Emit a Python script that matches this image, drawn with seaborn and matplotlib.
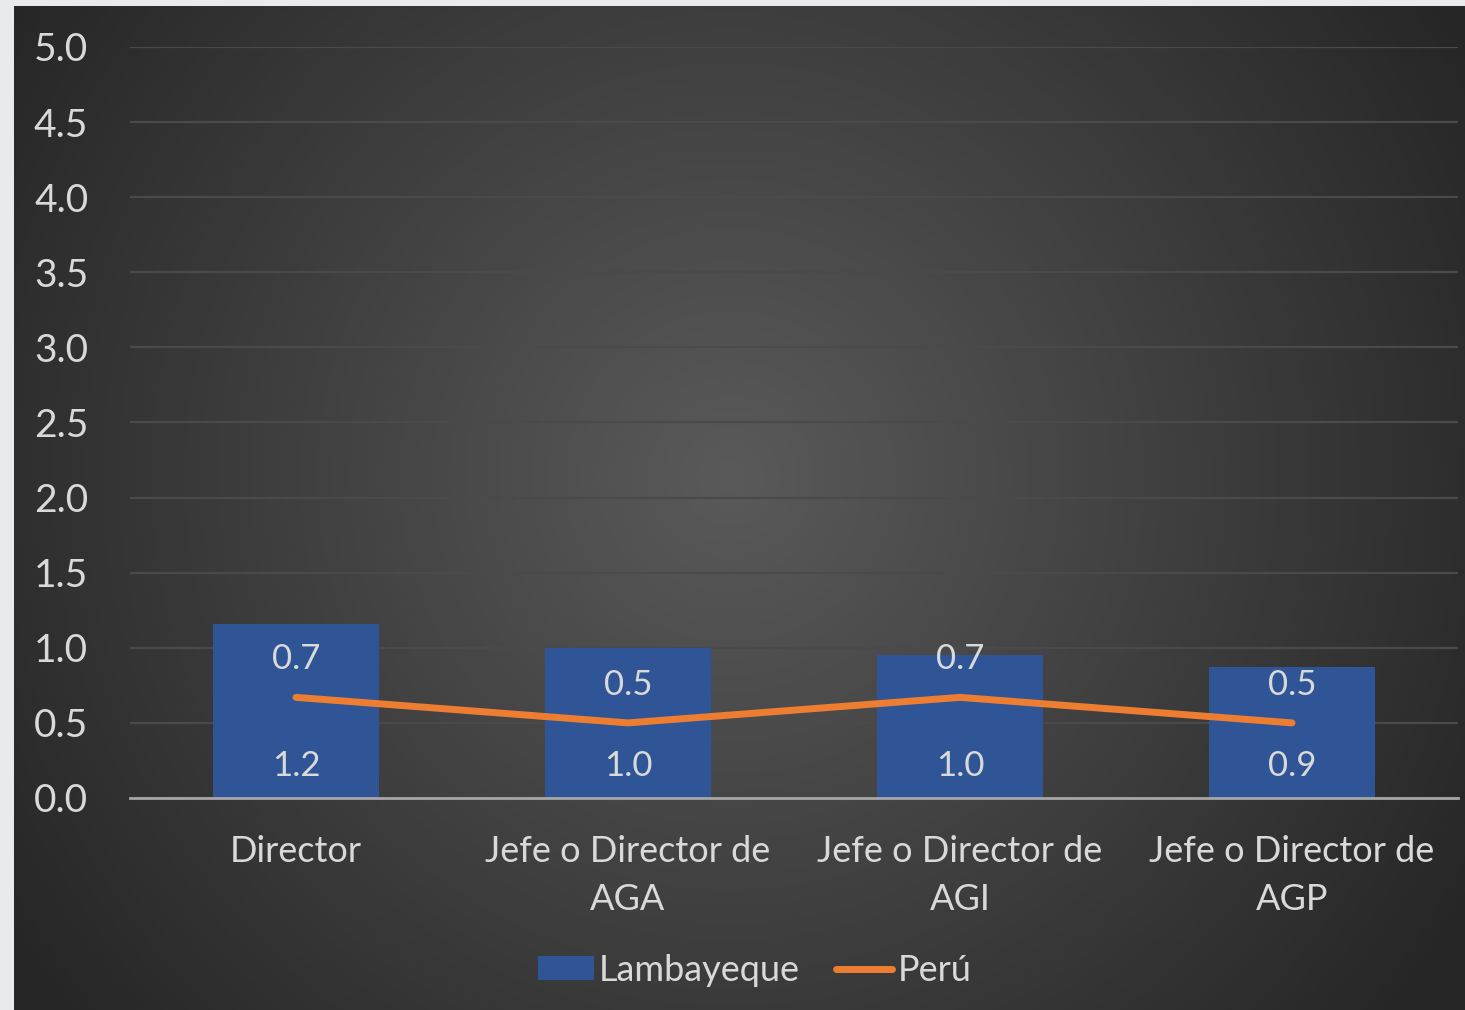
import numpy as np
import pandas as pd
import matplotlib
matplotlib.use("Agg")
import matplotlib.pyplot as plt
from matplotlib.patches import Patch
from matplotlib.lines import Line2D
import seaborn as sns

# ── Data ────────────────────────────────────────────────────────────────────
categories = ["Director", "Jefe o Director de\nAGA", "Jefe o Director de\nAGI",
              "Jefe o Director de\nAGP"]
lambayeque = [1.16, 1.00, 0.95, 0.87]
peru = [0.67, 0.50, 0.67, 0.50]
lamb_labels = ["1.2", "1.0", "1.0", "0.9"]
peru_labels = ["0.7", "0.5", "0.7", "0.5"]
yticks = [0.0, 0.5, 1.0, 1.5, 2.0, 2.5, 3.0, 3.5, 4.0, 4.5, 5.0]

BLUE = "#2f5597"
ORANGE = "#ed7d31"
TXT = "#d9d9d9"

sns.set_theme(style="dark")
plt.rcParams["font.family"] = ["Lato", "DejaVu Sans"]

W, H = 1465, 1010
fig = plt.figure(figsize=(W / 100, H / 100), dpi=100, facecolor="#e9eaed")

# ── dark panel with radial gradient ─────────────────────────────────────────
bg = fig.add_axes([14 / W, 0, 1 - 14 / W, 1 - 6 / H], zorder=0)
yy, xx = np.mgrid[0:1004, 0:1451]
d = np.hypot(xx - 716, yy - 470) / 860
v = (90 - 52 * np.clip(d, 0, 1)) / 255
bg.imshow(np.dstack([v, v, v]), aspect="auto", extent=[0, 1, 0, 1])
bg.axis("off")

ax = fig.add_axes([130 / W, 1 - 798 / H, 1328 / W, 751 / H], zorder=1)
ax.patch.set_alpha(0)

df = pd.DataFrame({"cat": categories, "lamb": lambayeque, "peru": peru})
sns.barplot(data=df, x="cat", y="lamb", color=BLUE, width=0.5, saturation=1,
            linewidth=0, ax=ax, zorder=2)
ax.plot(range(len(categories)), df["peru"], color=ORANGE, lw=5,
        solid_capstyle="round", zorder=3)

for i, lab in enumerate(lamb_labels):
    ax.annotate(lab, (i, 0), xytext=(0, 23), textcoords="offset points",
                ha="center", va="center", color=TXT, fontsize=25)
for i, (p, lab) in enumerate(zip(peru, peru_labels)):
    ax.annotate(lab, (i, p), xytext=(0, 27.5), textcoords="offset points",
                ha="center", va="center", color=TXT, fontsize=25)

ax.set_xlim(-0.5, len(categories) - 0.5)
ax.set_ylim(0, 5)
ax.set_yticks(yticks)
ax.set_yticklabels([f"{t:.1f}" for t in yticks])
ax.set_xlabel("")
ax.set_ylabel("")
ax.grid(axis="y", color="#4a4a4a", lw=1.6, zorder=0)
ax.grid(axis="x", visible=False)
for s in ["top", "right", "left"]:
    ax.spines[s].set_visible(False)
ax.spines["bottom"].set_color("#a6a6a6")
ax.spines["bottom"].set_linewidth(2)
ax.spines["bottom"].set_zorder(4)
ax.tick_params(axis="y", length=0, pad=30, labelsize=28, labelcolor=TXT)
ax.tick_params(axis="x", length=0, pad=27, labelsize=26, labelcolor=TXT)
for t in ax.get_xticklabels():
    t.set_linespacing(1.55)

handles = [Patch(facecolor=BLUE, edgecolor="none", label="Lambayeque"),
           Line2D([0], [0], color=ORANGE, lw=5, solid_capstyle="round", label="Perú")]
leg = fig.legend(handles=handles, loc="center", bbox_to_anchor=(0.515, 0.039),
                 ncol=2, frameon=False, fontsize=26, handlelength=1.55,
                 handleheight=0.65, handletextpad=0.15, columnspacing=1.0)
for t in leg.get_texts():
    t.set_color(TXT)

fig.savefig("out.png", dpi=100, facecolor=fig.get_facecolor())
